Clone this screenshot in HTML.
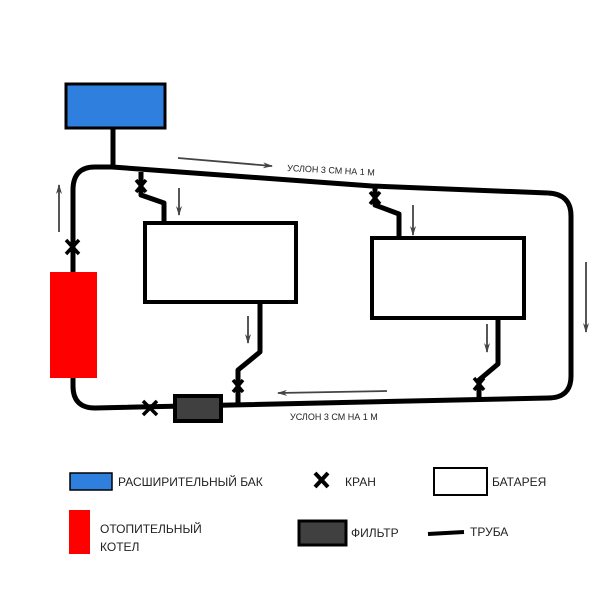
<!DOCTYPE html>
<html><head><meta charset="utf-8"><style>body{margin:0;background:#fff}svg{display:block}</style></head><body>
<svg width="600" height="600" viewBox="0 0 600 600" xmlns="http://www.w3.org/2000/svg" font-family="Liberation Sans, sans-serif">
<defs><marker id="a" markerWidth="10" markerHeight="8" refX="9" refY="4" orient="auto" markerUnits="userSpaceOnUse"><path d="M0,1 L10,4 L0,7 L3,4Z" fill="#444"/></marker></defs>
<g fill="none" stroke="#000" stroke-width="5" stroke-linejoin="round">
<path d="M113,128 V168"/>
<path d="M548,193 L372,186 L112,167 H95 Q73,167 73,190 V272"/>
<path d="M548,193 Q571,194 571,216 V376 Q571,398 548,398 L95,408 Q73,408 73,386 V378"/>
<path d="M141,172 V195 L164,203 V223"/>
<path d="M375,188 V205 L399,214 V238"/>
<path d="M260,302 V352 L238,370 V405"/>
<path d="M498,318 V364 L479,380 V399"/>
</g>
<rect x="66" y="84" width="99" height="44" fill="#2f7fde" stroke="#000" stroke-width="3"/>
<rect x="50" y="272" width="47" height="106" fill="#f00"/>
<rect x="145" y="223" width="151" height="79" fill="#fff" stroke="#000" stroke-width="4"/>
<rect x="372" y="238" width="152" height="80" fill="#fff" stroke="#000" stroke-width="4"/>
<rect x="175" y="396" width="46" height="25" fill="#404040" stroke="#000" stroke-width="4"/>
<g stroke="#000" stroke-width="3.5">
<path d="M66,240 L79,254 M79,240 L66,254"/>
<path d="M143,401 L157,415 M157,401 L143,415"/>
<path d="M136,180 L146,192 M146,180 L136,192"/>
<path d="M370,192 L380,204 M380,192 L370,204"/>
<path d="M233,380 L243,392 M243,380 L233,392"/>
<path d="M474,378 L484,390 M484,378 L474,390"/>
</g>
<g stroke="#444" stroke-width="1.8" marker-end="url(#a)">
<path d="M59,232 V185"/>
<path d="M179,188 V215"/>
<path d="M413,205 V235"/>
<path d="M248,316 V343"/>
<path d="M487,324 V352"/>
<path d="M586,262 V332"/>
<path d="M178,158 L272,166"/>
<path d="M387,391 L278,393"/>
</g>
<g font-size="9" fill="#222">
<text x="287" y="171" transform="rotate(3 287 171)">УСЛОН 3 СМ НА 1 М</text>
<text x="290" y="420">УСЛОН 3 СМ НА 1 М</text>
</g>
<rect x="70" y="473" width="42" height="17" fill="#2f7fde" stroke="#000" stroke-width="1.5"/>
<path d="M315,473 L328,487 M328,473 L315,487" stroke="#000" stroke-width="4"/>
<rect x="434" y="468" width="53" height="27" fill="#fff" stroke="#000" stroke-width="2"/>
<rect x="69" y="510" width="21" height="44" fill="#f00"/>
<rect x="299" y="521" width="47" height="24" fill="#404040" stroke="#000" stroke-width="3"/>
<path d="M428,534 L464,532" stroke="#000" stroke-width="4"/>
<g font-size="12" fill="#222">
<text x="118" y="486">РАСШИРИТЕЛЬНЫЙ БАК</text>
<text x="345" y="486">КРАН</text>
<text x="492" y="486">БАТАРЕЯ</text>
<text x="100" y="533">ОТОПИТЕЛЬНЫЙ</text>
<text x="100" y="551">КОТЕЛ</text>
<text x="351" y="537">ФИЛЬТР</text>
<text x="470" y="536">ТРУБА</text>
</g>
</svg>
</body></html>
